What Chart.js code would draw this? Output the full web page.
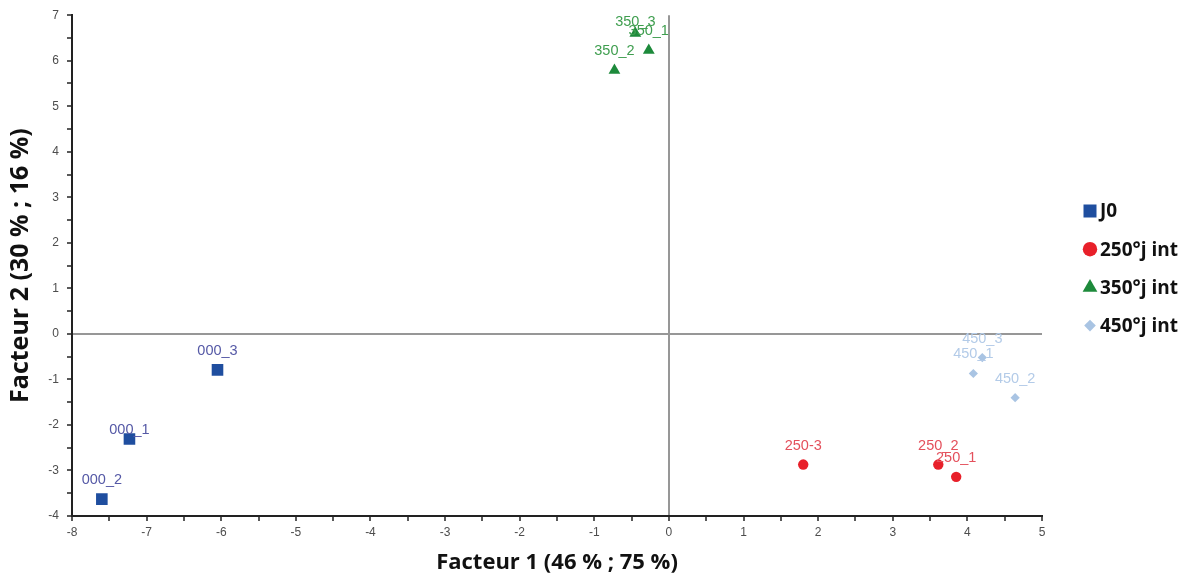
<!DOCTYPE html>
<html><head><meta charset="utf-8">
<script src="https://cdn.jsdelivr.net/npm/chart.js@4/dist/chart.umd.min.js"></script>
<style>html,body{margin:0;padding:0;background:#fff}#wrap{width:1194px;height:580px;position:relative}</style>
</head><body><div id="wrap"><canvas id="c" width="1194" height="580"></canvas></div>
<script>
// ---- data ----
const seriesNames = ['J0', '250°j int', '350°j int', '450°j int'];
const j0Labels = ['000_1', '000_2', '000_3'];
const j0X = [-7.23, -7.60, -6.05];
const j0Y = [-2.31, -3.63, -0.79];
const d250Labels = ['250_1', '250_2', '250-3'];
const d250X = [3.85, 3.61, 1.80];
const d250Y = [-3.14, -2.87, -2.87];
const d350Labels = ['350_1', '350_2', '350_3'];
const d350X = [-0.27, -0.73, -0.45];
const d350Y = [6.23, 5.79, 6.60];
const d450Labels = ['450_1', '450_2', '450_3'];
const d450X = [4.08, 4.64, 4.20];
const d450Y = [-0.87, -1.40, -0.52];
const xRange = [-8, 5];
const yRange = [-4, 7];
const xTitle = 'Facteur 1 (46 % ; 75 %)';
const yTitle = 'Facteur 2 (30 % ; 16 %)';

// ---- styles ----
const styles = [
  {point: '#1f4e9f', label: '#5559a6', shape: 'rect', r: 8.2, lr: 9.2},
  {point: '#e8202a', label: '#e4505c', shape: 'circle', r: 5.2, lr: 7.2},
  {point: '#1d8a3b', label: '#3f9e4f', shape: 'triangle', r: 6.8, lr: 8.5},
  {point: '#a9c4e3', label: '#b3cbe8', shape: 'rectRot', r: 4.6, lr: 5.8}
];
const labelNudge = {'000_1': -9, '350_3': -11};
const defaultNudge = -19;

function pts(xs, ys) { return xs.map((x, i) => ({x: x, y: ys[i]})); }
const allLabels = [j0Labels, d250Labels, d350Labels, d450Labels];
const datasets = [
  pts(j0X, j0Y), pts(d250X, d250Y), pts(d350X, d350Y), pts(d450X, d450Y)
].map((data, i) => ({
  label: seriesNames[i],
  data: data,
  pointStyle: styles[i].shape,
  pointRadius: styles[i].r,
  pointHoverRadius: styles[i].r,
  backgroundColor: styles[i].point,
  borderColor: styles[i].point,
  borderWidth: 0,
  pointLabels: allLabels[i]
}));

const labelPlugin = {
  id: 'pointLabels',
  afterDatasetsDraw(chart) {
    const ctx = chart.ctx;
    ctx.save();
    ctx.font = '14.5px "Liberation Sans", Arial, sans-serif';
    ctx.textAlign = 'center';
    ctx.textBaseline = 'middle';
    chart.data.datasets.forEach((ds, i) => {
      const meta = chart.getDatasetMeta(i);
      ctx.fillStyle = styles[i].label;
      meta.data.forEach((el, j) => {
        const t = ds.pointLabels[j];
        const dy = (t in labelNudge) ? labelNudge[t] : defaultNudge;
        ctx.fillText(t, el.x, el.y + dy);
      });
    });
    // legend
    const lx = 1090, ly0 = 211, step = 38.2;
    ctx.font = 'bold 19px "Open Sans", sans-serif';
    ctx.textAlign = 'left';
    chart.data.datasets.forEach((ds, i) => {
      const y = ly0 + i * step;
      ctx.fillStyle = styles[i].point;
      Chart.helpers.drawPoint(ctx, {pointStyle: styles[i].shape, radius: styles[i].lr, rotation: 0, borderWidth: 0}, lx, y);
      ctx.fillStyle = '#111';
      ctx.fillText(ds.label, lx + 10, y + 1);
    });
    ctx.restore();
  }
};

const gridColor = c => (c.tick && c.tick.value === 0) ? '#979797' : 'rgba(0,0,0,0)';
const tickCb = v => Number.isInteger(v) ? String(v) : '';

new Chart(document.getElementById('c'), {
  type: 'scatter',
  data: {datasets: datasets},
  options: {
    responsive: false,
    animation: false,
    devicePixelRatio: 1,
    layout: {padding: {left: 0, top: 15, right: 152, bottom: 0}},
    plugins: {legend: {display: false}, tooltip: {enabled: false}},
    scales: {
      x: {
        type: 'linear', min: xRange[0], max: xRange[1],
        afterFit: s => { s.height = 64; },
        border: {display: true, color: '#222', width: 2},
        grid: {color: gridColor, lineWidth: 2, tickColor: '#222', tickWidth: 1.5, tickLength: 5, drawOnChartArea: true},
        ticks: {stepSize: 0.5, autoSkip: false, maxRotation: 0, callback: tickCb, color: '#4d4d4d', padding: 4,
                font: {family: '"Liberation Sans", Arial, sans-serif', size: 12}},
        title: {display: true, text: xTitle, color: '#111', padding: {top: 0, bottom: 4},
                font: {family: '"Open Sans", sans-serif', size: 22, weight: 'bold'}}
      },
      y: {
        type: 'linear', min: yRange[0], max: yRange[1],
        afterFit: s => { s.width = 72; },
        border: {display: true, color: '#222', width: 2},
        grid: {color: gridColor, lineWidth: 2, tickColor: '#222', tickWidth: 1.5, tickLength: 5, drawOnChartArea: true},
        ticks: {stepSize: 0.5, autoSkip: false, callback: tickCb, color: '#4d4d4d', padding: 8,
                font: {family: '"Liberation Sans", Arial, sans-serif', size: 12}},
        title: {display: true, text: yTitle, color: '#111', padding: {top: 6, bottom: 0},
                font: {family: '"Open Sans", sans-serif', size: 25, weight: 'bold'}}
      }
    }
  },
  plugins: [labelPlugin]
});
</script>
</body></html>
